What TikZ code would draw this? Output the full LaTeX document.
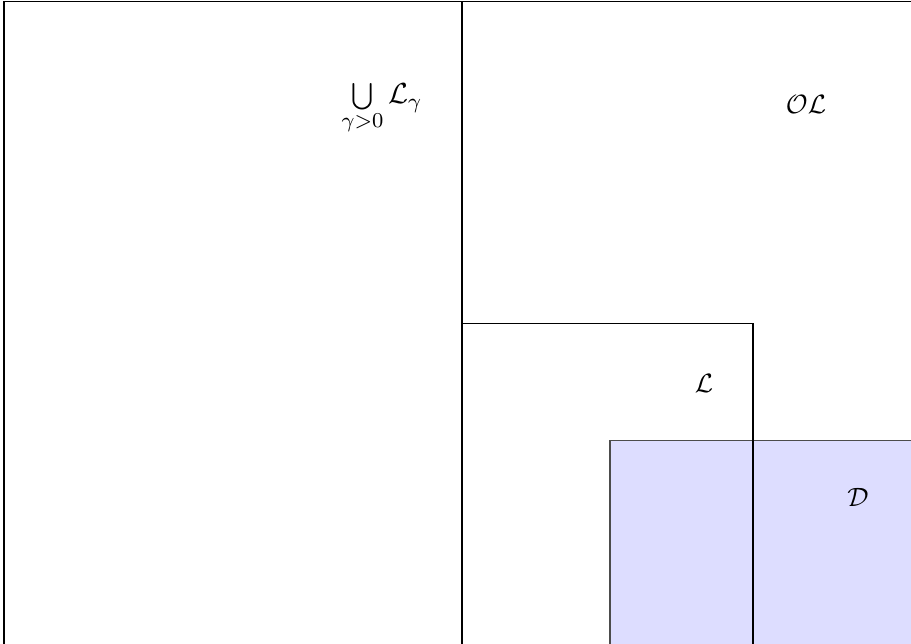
\documentclass[tikz,border=0pt]{standalone}
\begin{document}
\begin{tikzpicture}[x=0.3774pt,y=-0.3774pt,
  box/.style={draw=black,line width=0.4pt},
  lbl/.style={inner sep=0pt}]
\useasboundingbox (0,0) rectangle (911,643);
\begin{scope}
\clip (0,0) rectangle (911,643);
\draw[box] (4,1.5) rectangle (1000,700);
\draw[box] (4,1.5) rectangle (462,700);
\draw[box] (462,323.5) rectangle (753,700);
\fill[blue!15,draw=black!70,line width=0.4pt,fill opacity=0.9] (610,440.5) rectangle (1000,700);
\draw[box] (753,440) -- (753,700);
\end{scope}
\node[lbl,font=\fontsize{11.2}{13}\selectfont] (u) at (382,109) {$\bigcup\limits_{\gamma>0}\mathcal{L}_\gamma$};
\node[lbl] (ol) at (806,104) {$\mathcal{OL}$};
\node[lbl] (l) at (704,383) {$\mathcal{L}$};
\node[lbl] (d) at (858,497) {$\mathcal{D}$};
\end{tikzpicture}
\end{document}
